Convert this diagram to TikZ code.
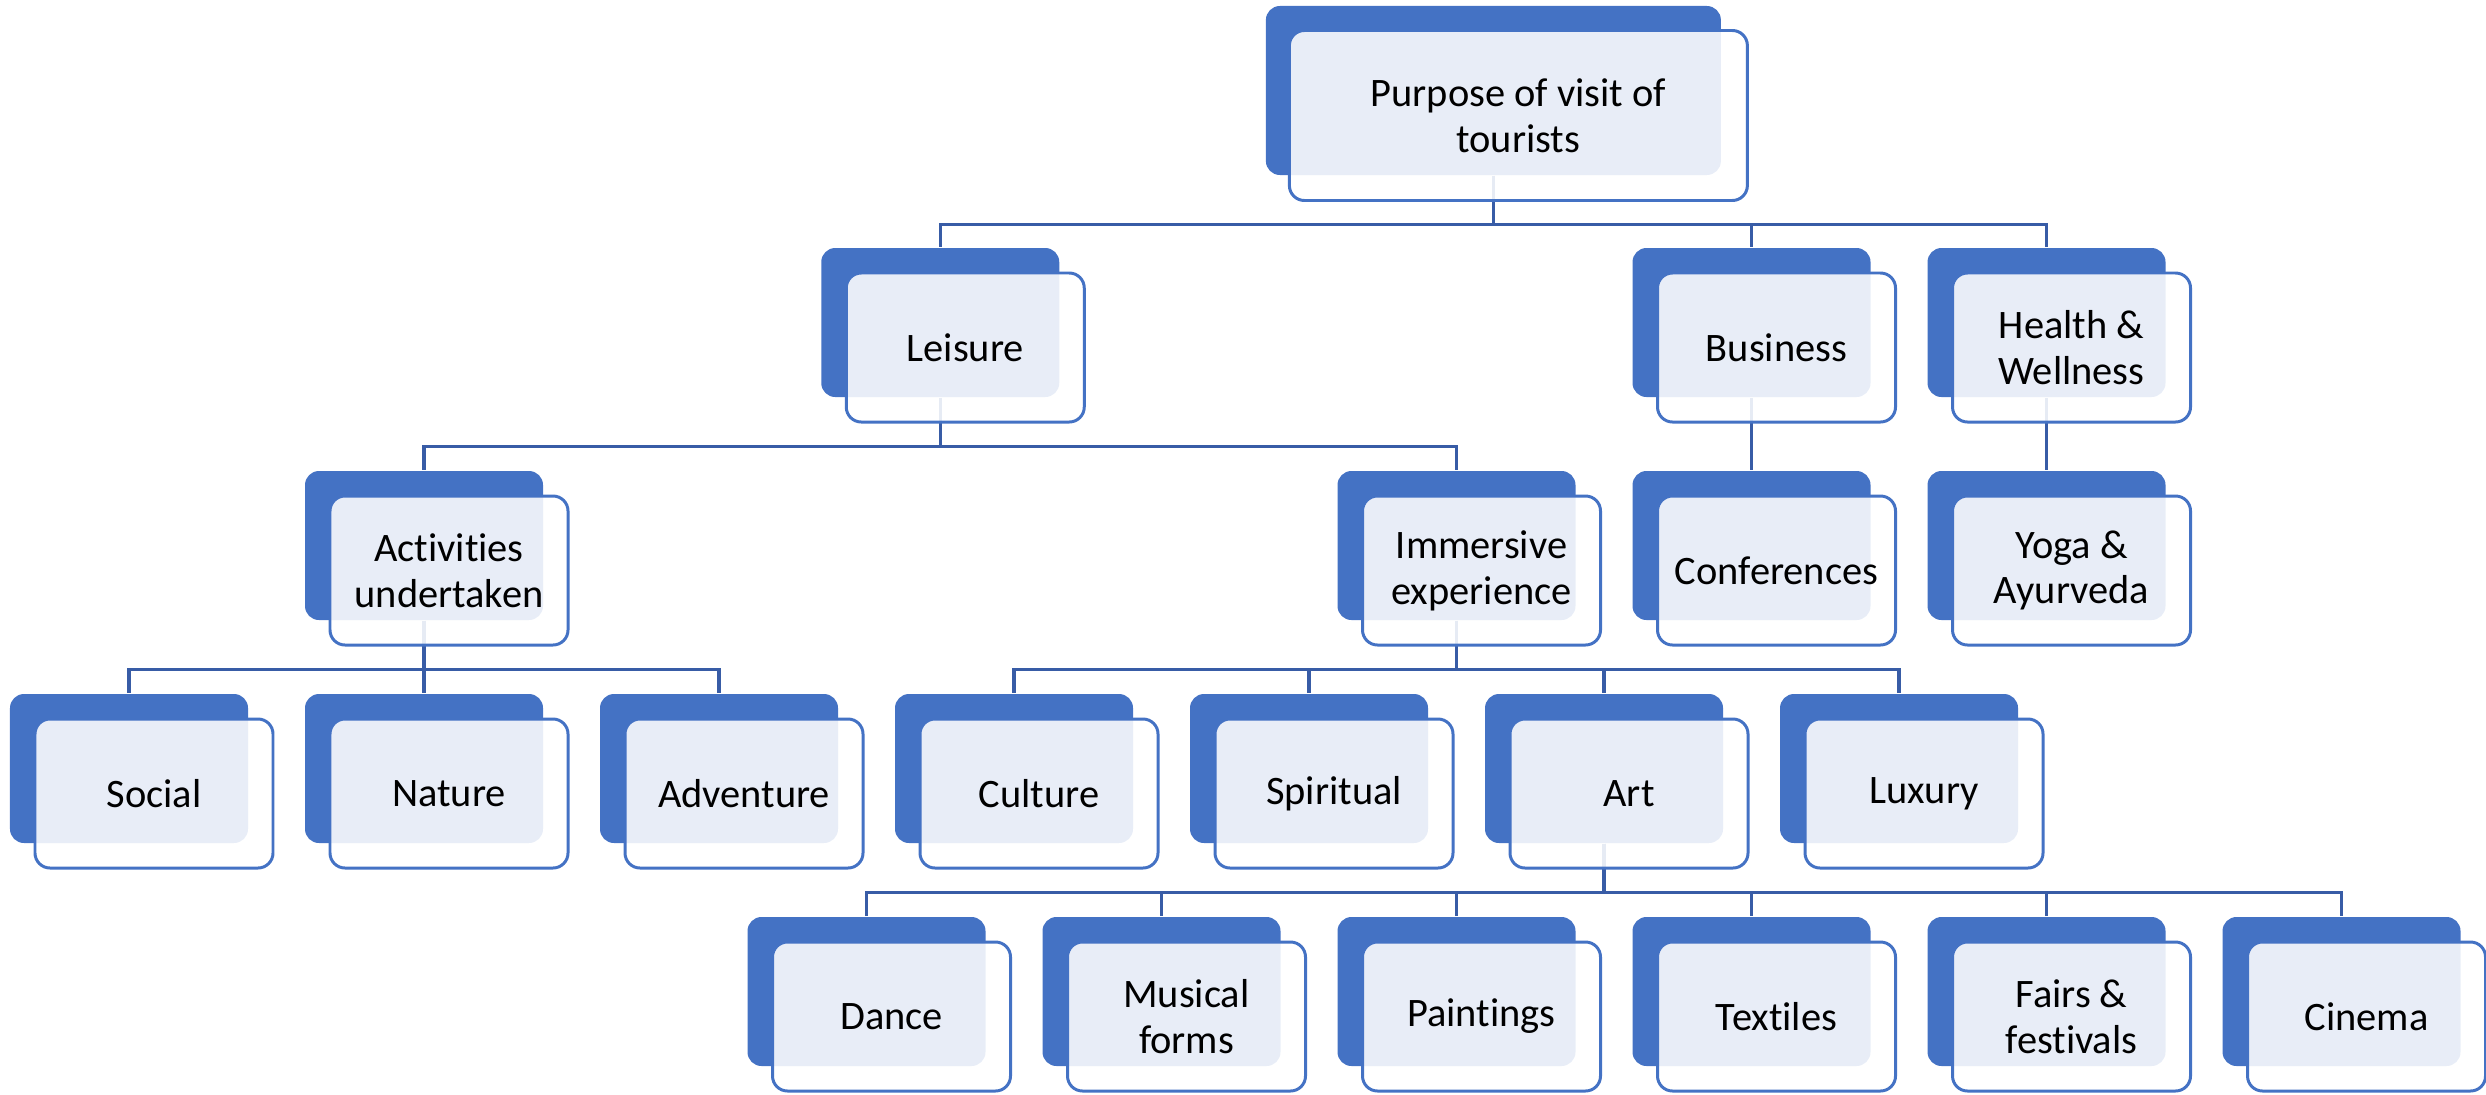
\documentclass[tikz,border=0pt]{standalone}
\usepackage{fontspec}
\setmainfont{Carlito}[Ligatures=NoCommon]
\usepackage{tikz}
\definecolor{boxblue}{RGB}{68,114,196}
\definecolor{linkblue}{RGB}{56,92,166}

\begin{document}
\begin{tikzpicture}[
    font=\fontsize{11.5}{13}\selectfont,
    backbox/.style={rectangle, rounded corners=0.14cm, fill=boxblue,
        minimum width=2.38cm, minimum height=1.49cm, inner sep=0pt},
    frontbox/.style={rectangle, rounded corners=0.15cm, draw=boxblue, line width=0.85pt,
        fill=white, fill opacity=0.88, text opacity=1, align=center,
        minimum width=2.38cm, minimum height=1.49cm, inner sep=0pt,
        xshift=0.25cm, yshift=-0.25cm},
    link/.style={draw=linkblue, line width=0.9pt}
]

% Page frame:
\useasboundingbox (0,0) rectangle (24.86,-10.94);

%--- Grid ---
% column pitch and first column (back box centres)
\def\colw{2.95}
\def\xstart{1.29}
% row centres, top to bottom
\def\rowA{-0.905}
\def\rowB{-3.225}
\def\rowC{-5.455}
\def\rowD{-7.685}
\def\rowE{-9.915}
% drop from a back box to the bus line
\def\drop{0.49}

% bottom row starts two and a half columns to the right
\pgfmathsetmacro{\xhalf}{\xstart + 2.5*\colw}
\pgfmathsetmacro{\xleisure}{(\xstart + \colw + \xhalf + 2*\colw)/2}
\pgfmathsetmacro{\xtop}{(\xleisure + \xhalf + 4*\colw)/2}

%--- Back boxes (the blue ones), placed first so links can refer to them ---
\node[backbox, minimum width=4.55cm, minimum height=1.69cm] (purpose) at (\xtop,\rowA) {};

\node[backbox] (leisure)  at (\xleisure,\rowB) {};
\node[backbox] (business) at ({\xhalf+3*\colw},\rowB) {};
\node[backbox] (health)   at ({\xhalf+4*\colw},\rowB) {};

\node[backbox] (activities)  at ({\xstart+\colw},\rowC) {};
\node[backbox] (immersive)   at ({\xhalf+2*\colw},\rowC) {};
\node[backbox] (conferences) at ({\xhalf+3*\colw},\rowC) {};
\node[backbox] (yoga)        at ({\xhalf+4*\colw},\rowC) {};

\node[backbox] (social)    at (\xstart,\rowD) {};
\node[backbox] (nature)    at ({\xstart+\colw},\rowD) {};
\node[backbox] (adventure) at ({\xstart+2*\colw},\rowD) {};
\node[backbox] (culture)   at ({\xstart+3*\colw},\rowD) {};
\node[backbox] (spiritual) at ({\xstart+4*\colw},\rowD) {};
\node[backbox] (art)       at ({\xstart+5*\colw},\rowD) {};
\node[backbox] (luxury)    at ({\xstart+6*\colw},\rowD) {};

\node[backbox] (dance)     at (\xhalf,\rowE) {};
\node[backbox] (musical)   at ({\xhalf+\colw},\rowE) {};
\node[backbox] (paintings) at ({\xhalf+2*\colw},\rowE) {};
\node[backbox] (textiles)  at ({\xhalf+3*\colw},\rowE) {};
\node[backbox] (fairs)     at ({\xhalf+4*\colw},\rowE) {};
\node[backbox] (cinema)    at ({\xhalf+5*\colw},\rowE) {};

%--- Links (under the front boxes) ---
\foreach \kid in {leisure, business, health}
  \draw[link] (purpose.south) -- ++(0,-\drop) -| (\kid.north);
\foreach \kid in {activities, immersive}
  \draw[link] (leisure.south) -- ++(0,-\drop) -| (\kid.north);
\draw[link] (business.south) -- (conferences.north);
\draw[link] (health.south) -- (yoga.north);
\foreach \kid in {social, nature, adventure}
  \draw[link] (activities.south) -- ++(0,-\drop) -| (\kid.north);
\foreach \kid in {culture, spiritual, art, luxury}
  \draw[link] (immersive.south) -- ++(0,-\drop) -| (\kid.north);
\foreach \kid in {dance, musical, paintings, textiles, fairs, cinema}
  \draw[link] (art.south) -- ++(0,-\drop) -| (\kid.north);

%--- Front boxes with the labels ---
\node[frontbox, minimum width=4.58cm, minimum height=1.70cm] (purpose-t) at (purpose) {Purpose of visit of\\tourists};

\node[frontbox] (leisure-t)  at (leisure)  {Leisure};
\node[frontbox] (business-t) at (business) {Business};
\node[frontbox] (health-t)   at (health)   {Health \&\\Wellness};

\node[frontbox] (activities-t)  at (activities)  {Activities\\undertaken};
\node[frontbox] (immersive-t)   at (immersive)   {Immersive\\experience};
\node[frontbox] (conferences-t) at (conferences) {Conferences};
\node[frontbox] (yoga-t)        at (yoga)        {Yoga \&\\Ayurveda};

\node[frontbox] (social-t)    at (social)    {Social};
\node[frontbox] (nature-t)    at (nature)    {Nature};
\node[frontbox] (adventure-t) at (adventure) {Adventure};
\node[frontbox] (culture-t)   at (culture)   {Culture};
\node[frontbox] (spiritual-t) at (spiritual) {Spiritual};
\node[frontbox] (art-t)       at (art)       {Art};
\node[frontbox] (luxury-t)    at (luxury)    {Luxury};

\node[frontbox] (dance-t)     at (dance)     {Dance};
\node[frontbox] (musical-t)   at (musical)   {Musical\\forms};
\node[frontbox] (paintings-t) at (paintings) {Paintings};
\node[frontbox] (textiles-t)  at (textiles)  {Textiles};
\node[frontbox] (fairs-t)     at (fairs)     {Fairs \&\\festivals};
\node[frontbox] (cinema-t)    at (cinema)    {Cinema};

\end{tikzpicture}
\end{document}
